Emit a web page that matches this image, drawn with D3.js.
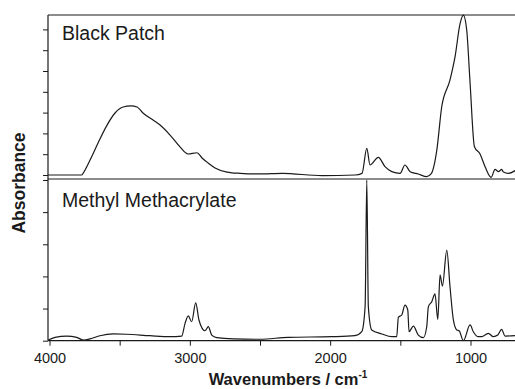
<!DOCTYPE html>
<html>
<head>
<meta charset="utf-8">
<script src="https://cdn.jsdelivr.net/npm/d3@7"></script>
<style>
  body { margin: 0; background: #fff; }
  svg { display: block; font-family: "Liberation Sans", Arial, sans-serif; }
</style>
</head>
<body>
<svg id="chart" width="515" height="389"></svg>
<script>
// Black Patch spectrum (wavenumber, absorbance)
const bpWavenumber = [4010, 3770, 3761, 3711, 3654, 3590, 3533, 3476, 3419, 3376, 3334, 3262, 3212, 3141, 3070, 3013, 2949, 2913, 2870, 2820, 2735, 2642, 2500, 2343, 2058, 1823, 1773, 1739, 1716, 1657, 1609, 1561, 1502, 1467, 1430, 1372, 1312, 1281, 1240, 1205, 1146, 1110, 1074, 1051, 1027, 1003, 972, 932, 896, 853, 825, 801, 777, 768, 730, 682];
const bpAbsorbance = [0, 0, 0.008, 0.072, 0.154, 0.240, 0.298, 0.327, 0.332, 0.327, 0.298, 0.264, 0.240, 0.192, 0.135, 0.101, 0.107, 0.082, 0.058, 0.034, 0.014, 0.008, 0.005, 0.008, -0.003, 0, 0.008, 0.128, 0.048, 0.085, 0.040, 0.016, 0.008, 0.048, 0.016, 0.005, -0.008, 0.005, 0.120, 0.328, 0.457, 0.569, 0.729, 0.769, 0.697, 0.442, 0.136, 0.101, 0.040, -0.011, 0.027, 0.016, 0.027, 0.016, 0.008, 0.021];

// Methyl Methacrylate spectrum (wavenumber, absorbance)
const mmaWavenumber = [4009, 3961, 3877, 3806, 3759, 3711, 3640, 3545, 3450, 3284, 3141, 3058, 3034, 3011, 2987, 2958, 2935, 2892, 2868, 2844, 2808, 2690, 2500, 2298, 1989, 1823, 1775, 1751, 1739, 1728, 1704, 1632, 1561, 1526, 1514, 1490, 1467, 1447, 1438, 1407, 1372, 1336, 1312, 1300, 1276, 1253, 1233, 1217, 1200, 1169, 1146, 1122, 1098, 1081, 1051, 1003, 980, 944, 920, 873, 837, 806, 778, 754, 683];
const mmaAbsorbance = [0.004, 0.021, 0.029, 0.021, 0.004, 0.011, 0.031, 0.042, 0.040, 0.031, 0.025, 0.029, 0.108, 0.154, 0.118, 0.236, 0.129, 0.062, 0.087, 0.035, 0.019, 0.011, 0.009, 0.021, 0.025, 0.031, 0.056, 0.212, 1.0, 0.212, 0.067, 0.042, 0.025, 0.025, 0.146, 0.160, 0.222, 0.191, 0.056, 0.091, 0.035, 0.019, 0.087, 0.212, 0.243, 0.291, 0.133, 0.409, 0.340, 0.564, 0.336, 0.129, 0.067, 0.062, 0, 0.098, 0.056, 0.025, 0.025, 0.046, 0.025, 0.035, 0.071, 0.029, 0.031];

const xTickLabels = [4000, 3000, 2000, 1000];
const xMinorTicks = [3500, 2500, 1500];
const bpYTicks = [0, 0.1, 0.2, 0.3, 0.4, 0.5, 0.6, 0.7];
const mmaYTicks = [0, 0.2, 0.4, 0.6, 0.8, 1.0];
const panelTitles = ["Black Patch", "Methyl Methacrylate"];

const svg = d3.select("#chart");
const plotLeft = 48, plotRight = 540, plotTop = 15, plotMid = 179, plotBottom = 340.7;

const x = d3.scaleLinear().domain([4000, 1000]).range([49.5, 470.5]);

// upper panel: 0 at y=175, 0.1 per 20.8px
const yTop = d3.scaleLinear().domain([0, 0.7]).range([175, 175 - 7 * 20.8]);
const yBot = d3.scaleLinear().domain([0, 1]).range([plotBottom, 180]);

const ink = "#1a1a1a";

// spectra
const bpData = bpWavenumber.map((w, i) => [w, bpAbsorbance[i]]);
const mmaData = mmaWavenumber.map((w, i) => [w, mmaAbsorbance[i]]);

svg.append("path")
  .datum(bpData)
  .attr("fill", "none")
  .attr("stroke", ink)
  .attr("stroke-width", 1.2)
  .attr("d", d3.line().x(d => x(d[0])).y(d => yTop(d[1])).curve(d3.curveMonotoneX));

svg.append("path")
  .datum(mmaData)
  .attr("fill", "none")
  .attr("stroke", ink)
  .attr("stroke-width", 1.2)
  .attr("d", d3.line().x(d => x(d[0])).y(d => yBot(d[1])).curve(d3.curveMonotoneX));

// frame lines
svg.append("line").attr("x1", plotLeft).attr("x2", plotRight).attr("y1", plotTop).attr("y2", plotTop)
  .attr("stroke", ink).attr("stroke-width", 1.2);
svg.append("line").attr("x1", plotLeft).attr("x2", plotRight).attr("y1", plotMid).attr("y2", plotMid)
  .attr("stroke", ink).attr("stroke-width", 1.2);

// axes
svg.append("g")
  .attr("transform", `translate(${plotLeft},0)`)
  .call(d3.axisLeft(yTop).tickValues(bpYTicks).tickSize(5).tickFormat(""))
  .call(g => g.select(".domain").remove());

svg.append("g")
  .attr("transform", `translate(${plotLeft},0)`)
  .call(d3.axisLeft(yBot).tickValues(mmaYTicks).tickSize(5).tickFormat(""))
  .call(g => g.select(".domain").remove());

svg.append("line").attr("x1", plotLeft).attr("x2", plotLeft).attr("y1", plotTop).attr("y2", plotBottom)
  .attr("stroke", ink).attr("stroke-width", 1.2);

svg.append("g")
  .attr("transform", `translate(0,${plotBottom})`)
  .call(d3.axisBottom(x).tickValues(xMinorTicks).tickSize(5).tickFormat(""))
  .call(g => g.select(".domain").remove());

const xAxis = svg.append("g")
  .attr("transform", `translate(0,${plotBottom})`)
  .call(d3.axisBottom(x).tickValues(xTickLabels).tickSize(5).tickPadding(7).tickFormat(d3.format("d")))
  .call(g => g.select(".domain").remove());
xAxis.selectAll("text").attr("font-size", 14.5).attr("font-family", "Liberation Sans, Arial, sans-serif").attr("fill", ink);

svg.selectAll(".tick line").attr("stroke", ink);

svg.append("line").attr("x1", plotLeft).attr("x2", plotRight).attr("y1", plotBottom).attr("y2", plotBottom)
  .attr("stroke", ink).attr("stroke-width", 1.2);

// panel titles
svg.append("text").attr("x", 62).attr("y", 40).attr("font-size", 19.5).attr("fill", ink).text(panelTitles[0]);
svg.append("text").attr("x", 62).attr("y", 206.5).attr("font-size", 19.5).attr("fill", ink).text(panelTitles[1]);

// axis titles
svg.append("text")
  .attr("transform", "translate(25,183) rotate(-90)")
  .attr("text-anchor", "middle")
  .attr("font-size", 17.5)
  .attr("font-weight", "bold")
  .attr("fill", ink)
  .text("Absorbance");

const xt = svg.append("text")
  .attr("x", 288).attr("y", 385)
  .attr("text-anchor", "middle")
  .attr("font-size", 16.5)
  .attr("font-weight", "bold")
  .attr("fill", ink);
xt.append("tspan").text("Wavenumbers / cm");
xt.append("tspan").attr("font-size", 10).attr("dy", -7).text("-1");
</script>
</body>
</html>
